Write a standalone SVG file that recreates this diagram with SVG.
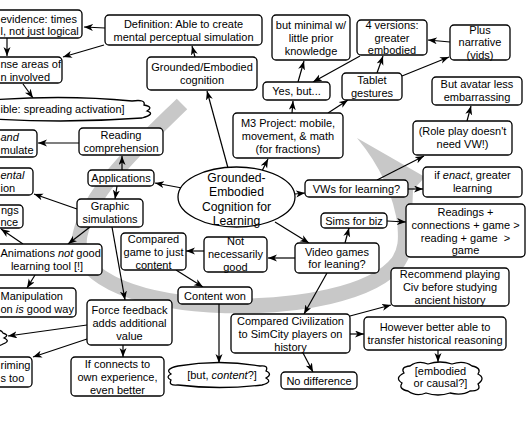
<svg xmlns="http://www.w3.org/2000/svg" width="530" height="442" viewBox="0 0 530 442">
<defs>
<marker id="ah" markerUnits="userSpaceOnUse" markerWidth="10" markerHeight="8" refX="9" refY="3.5" orient="auto">
<path d="M0,0 L9,3.5 L0,7 L2.5,3.5 z" fill="#000"/>
</marker>
<style>
.n rect,.n ellipse,.n path{fill:#fff;stroke:#000;stroke-width:1.3}
.n text{font-family:"Liberation Sans",Arial,sans-serif;font-size:11px;fill:#000;text-anchor:middle}
.n text.e{text-anchor:end}
.n text.s{text-anchor:start}
.n text.big{font-size:12.2px}
.c line{stroke:#000;stroke-width:1.2;marker-end:url(#ah)}
.i{font-style:italic}
</style>
</defs>
<rect width="530" height="442" fill="#fff"/>
<g id="sweep" fill="#c8c8c8">
<path d="M182,104 C140,145 90,190 80,235 C72,275 130,300 210,305 C300,310 375,292 398,262 C406,250 406,240 405,226" fill="none" stroke="#c8c8c8" stroke-width="15"/>
<path d="M357,138 L425,177 L413,190 Q412,210 412,228 L398,228 Q392,180 357,138 Z"/>
</g>
<g id="connectors" class="c">
<line x1="105" y1="28" x2="84" y2="27"/>
<line x1="7" y1="38" x2="7" y2="56"/>
<line x1="104" y1="45" x2="63" y2="57"/>
<line x1="23" y1="84" x2="33" y2="98"/>
<line x1="195" y1="57" x2="192" y2="46"/>
<line x1="228" y1="168" x2="207" y2="91"/>
<line x1="262" y1="171" x2="268" y2="159"/>
<line x1="292" y1="113" x2="293" y2="101"/>
<line x1="298" y1="82" x2="304" y2="61"/>
<line x1="360" y1="56" x2="313" y2="82"/>
<line x1="328" y1="113" x2="348" y2="100"/>
<line x1="377" y1="73" x2="383" y2="56"/>
<line x1="402" y1="76" x2="449" y2="57"/>
<line x1="450" y1="42" x2="428" y2="40"/>
<line x1="467" y1="121" x2="471" y2="106"/>
<line x1="377" y1="180" x2="424" y2="156"/>
<line x1="408" y1="189" x2="423" y2="189"/>
<line x1="295" y1="194" x2="305" y2="193"/>
<line x1="182" y1="188" x2="155" y2="183"/>
<line x1="122" y1="170" x2="122" y2="156"/>
<line x1="117" y1="186" x2="115" y2="199"/>
<line x1="79" y1="143" x2="38" y2="143"/>
<line x1="77" y1="209" x2="34" y2="194"/>
<line x1="90" y1="227" x2="68" y2="244"/>
<line x1="23" y1="244" x2="1" y2="229"/>
<line x1="35" y1="275" x2="27" y2="288"/>
<line x1="112" y1="227" x2="125" y2="300"/>
<line x1="87" y1="325" x2="8" y2="336"/>
<line x1="87" y1="339" x2="33" y2="357"/>
<line x1="123" y1="345" x2="123" y2="357"/>
<line x1="275" y1="222" x2="309" y2="243"/>
<line x1="345" y1="243" x2="349" y2="228"/>
<line x1="387" y1="221" x2="406" y2="222"/>
<line x1="295" y1="258" x2="268" y2="258"/>
<line x1="204" y1="251" x2="186" y2="251"/>
<line x1="176" y1="270" x2="203" y2="287"/>
<line x1="219" y1="304" x2="219" y2="363"/>
<line x1="327" y1="273" x2="304" y2="314"/>
<line x1="350" y1="316" x2="391" y2="305"/>
<line x1="350" y1="334" x2="364" y2="334"/>
<line x1="302" y1="351" x2="313" y2="372"/>
<line x1="438" y1="350" x2="438" y2="362"/>
</g>
<g id="n-evidence" class="n"><rect x="-40" y="10" width="122" height="28" rx="4"/><text class="s" x="0.5" y="22.5">evidence: times</text><text class="s" x="0.5" y="35">l, not just logical</text></g>
<g id="n-definition" class="n"><rect x="105" y="15" width="157" height="30" rx="4"/><text x="183.5" y="28">Definition: Able to create</text><text x="183.5" y="41">mental perceptual simulation</text></g>
<g id="n-sense" class="n"><rect x="-40" y="57" width="102" height="26" rx="4"/><text class="s" x="0.5" y="67.5">nse areas of</text><text class="s" x="0.5" y="80.5">n involved</text></g>
<g id="n-grounded" class="n"><rect x="147" y="57" width="110" height="33" rx="4"/><text x="202" y="71">Grounded/Embodied</text><text x="202" y="84">cognition</text></g>
<g id="n-spreading" class="n"><path d="M-20,101 Q60,94 132,101 q14,-2 12,4 q10,2 3,6 q9,3 -5,7 Q60,124 -20,118 z"/><text class="s" x="0.5" y="113">ible: spreading activation]</text></g>
<g id="n-minimal" class="n"><rect x="272" y="15" width="78" height="45" rx="4"/><text x="311" y="28.5">but minimal w/</text><text x="311" y="41.5">little prior</text><text x="311" y="54.5">knowledge</text></g>
<g id="n-versions" class="n"><rect x="357" y="20" width="70" height="35" rx="4"/><text x="392" y="29">4 versions:</text><text x="392" y="41.5">greater</text><text x="392" y="54">embodied</text></g>
<g id="n-plus" class="n"><rect x="450" y="25" width="60" height="35" rx="4"/><text x="480" y="33.5">Plus</text><text x="480" y="46">narrative</text><text x="480" y="58.5">(vids)</text></g>
<g id="n-yesbut" class="n"><rect x="263" y="82" width="67" height="18" rx="4"/><text x="296.5" y="95">Yes, but...</text></g>
<g id="n-tablet" class="n"><rect x="342" y="73" width="60" height="27" rx="4"/><text x="372" y="84">Tablet</text><text x="372" y="96.5">gestures</text></g>
<g id="n-avatar" class="n"><rect x="432" y="77" width="90" height="28" rx="4"/><text x="477" y="88">But avatar less</text><text x="477" y="101">embarrassing</text></g>
<g id="n-m3" class="n"><rect x="233" y="113" width="110" height="45" rx="4"/><text x="288" y="126.5">M3 Project: mobile,</text><text x="288" y="139.5">movement, &amp; math</text><text x="288" y="152.5">(for fractions)</text></g>
<g id="n-roleplay" class="n"><rect x="413" y="121" width="99" height="34" rx="4"/><text x="462.5" y="135">(Role play doesn't</text><text x="462.5" y="148">need VW!)</text></g>
<g id="n-enact" class="n"><rect x="423" y="167" width="99" height="30" rx="4"/><text x="472.5" y="179"><tspan>if </tspan><tspan class="i">enact</tspan><tspan>, greater</tspan></text><text x="472.5" y="192">learning</text></g>
<g id="n-vws" class="n"><rect x="305" y="180" width="103" height="17" rx="4"/><text x="356.5" y="192.5">VWs for learning?</text></g>
<g id="n-center" class="n"><ellipse cx="236.5" cy="197" rx="58.5" ry="30"/><text class="big" x="236.5" y="181.5">Grounded-</text><text class="big" x="236.5" y="196">Embodied</text><text class="big" x="236.5" y="210.5">Cognition for</text><text class="big" x="236.5" y="225">Learning</text></g>
<g id="n-applications" class="n"><rect x="88" y="170" width="66" height="16" rx="4"/><text x="121" y="182">Applications</text></g>
<g id="n-reading" class="n"><rect x="79" y="128" width="84" height="27" rx="4"/><text x="121" y="139">Reading</text><text x="121" y="152">comprehension</text></g>
<g id="n-graphic" class="n"><rect x="77" y="199" width="66" height="28" rx="4"/><text x="110" y="210">Graphic</text><text x="110" y="223">simulations</text></g>
<g id="n-readsim" class="n"><rect x="-40" y="130" width="77" height="27" rx="4"/><text class="s i" x="0.5" y="141">and</text><text class="s" x="0.5" y="154">mulate</text></g>
<g id="n-mental" class="n"><rect x="-40" y="168" width="73" height="27" rx="4"/><text class="s i" x="0.5" y="179">ental</text><text class="s" x="0.5" y="192">ion</text></g>
<g id="n-ngs" class="n"><rect x="-40" y="205" width="63" height="23" rx="4"/><text class="s" x="1" y="214">ngs</text><text class="s" x="0.5" y="226">nce</text></g>
<g id="n-animations" class="n"><rect x="-8" y="244" width="110" height="31" rx="4"/><text class="s" x="0.5" y="256.5"><tspan>Animations </tspan><tspan class="i">not</tspan><tspan> good</tspan></text><text x="47" y="269.5">learning tool [!]</text></g>
<g id="n-manipulation" class="n"><rect x="-40" y="288" width="116" height="29" rx="4"/><text class="s" x="0.5" y="299.5">Manipulation</text><text class="s" x="0.5" y="312.5"><tspan>on </tspan><tspan class="i">is</tspan><tspan> good way</tspan></text></g>
<g id="n-compgame" class="n"><rect x="121" y="233" width="65" height="37" rx="4"/><text x="153.5" y="243">Compared</text><text x="153.5" y="256">game to just</text><text x="153.5" y="268.5">content</text></g>
<g id="n-notnec" class="n"><rect x="204" y="237" width="63" height="35" rx="4"/><text x="235.5" y="245">Not</text><text x="235.5" y="258">necessarily</text><text x="235.5" y="271">good</text></g>
<g id="n-contentwon" class="n"><rect x="178" y="287" width="74" height="17" rx="4"/><text x="215" y="299.5">Content won</text></g>
<g id="n-force" class="n"><rect x="87" y="300" width="85" height="45" rx="4"/><text x="129.5" y="314">Force feedback</text><text x="129.5" y="327">adds additional</text><text x="129.5" y="340">value</text></g>
<g id="n-leftcloud" class="n"><path d="M-12,331 q12,-3 15,2 q7,2 1,5 q7,3 -1,6 q-4,3 -15,1 z"/></g>
<g id="n-priming" class="n"><rect x="-40" y="357" width="72" height="30" rx="4"/><text class="s" x="0.5" y="369">riming</text><text class="s" x="0.5" y="382">s too</text></g>
<g id="n-connects" class="n"><rect x="71" y="357" width="93" height="39" rx="4"/><text x="117.5" y="367.5">If connects to</text><text x="117.5" y="380.5">own experience,</text><text x="117.5" y="393.5">even better</text></g>
<g id="n-butcontent" class="n"><path d="M178,366 Q219,359 260,366 q9,-1 6,5 q7,3 0,7 q7,4 -4,7 Q219,390 178,385 q-10,1 -7,-5 q-6,-3 0,-6 q-7,-5 7,-8 z"/><text x="222" y="378.5"><tspan>[but, </tspan><tspan class="i">content</tspan><tspan>?]</tspan></text></g>
<g id="n-videogames" class="n"><rect x="295" y="243" width="84" height="30" rx="4"/><text x="337" y="255.5">Video games</text><text x="337" y="268">for leaning?</text></g>
<g id="n-sims" class="n"><rect x="321" y="213" width="66" height="15" rx="4"/><text x="354" y="224.5">Sims for biz</text></g>
<g id="n-readings" class="n"><rect x="406" y="204" width="119" height="53" rx="4"/><text x="465.5" y="215.5">Readings +</text><text x="465.5" y="228.5">connections + game &gt;</text><text x="465.5" y="241.5" style="white-space:pre">reading + game  &gt;</text><text x="465.5" y="254">game</text></g>
<g id="n-recommend" class="n"><rect x="391" y="268" width="118" height="38" rx="4"/><text x="450" y="278">Recommend playing</text><text x="450" y="291">Civ before studying</text><text x="450" y="304">ancient history</text></g>
<g id="n-compciv" class="n"><rect x="231" y="314" width="119" height="39" rx="4"/><text x="290.5" y="325">Compared Civilization</text><text x="290.5" y="338">to SimCity players on</text><text x="290.5" y="351">history</text></g>
<g id="n-however" class="n"><rect x="364" y="317" width="142" height="33" rx="4"/><text x="435" y="331">However better able to</text><text x="435" y="344">transfer historical reasoning</text></g>
<g id="n-nodiff" class="n"><rect x="281" y="372" width="76" height="17" rx="4"/><text x="319" y="384.5">No difference</text></g>
<g id="n-embodied" class="n"><path d="M410,366 q8,-6 18,-2 q12,-4 24,0 q12,-4 20,2 q10,2 6,8 q8,4 0,10 q4,7 -8,7 q-8,5 -20,2 q-12,4 -24,0 q-10,4 -18,-2 q-10,-2 -6,-8 q-8,-5 2,-10 q-4,-6 6,-7 z"/><text x="440.5" y="374.5">[embodied</text><text x="440.5" y="386.5">or causal?]</text></g>
</svg>
